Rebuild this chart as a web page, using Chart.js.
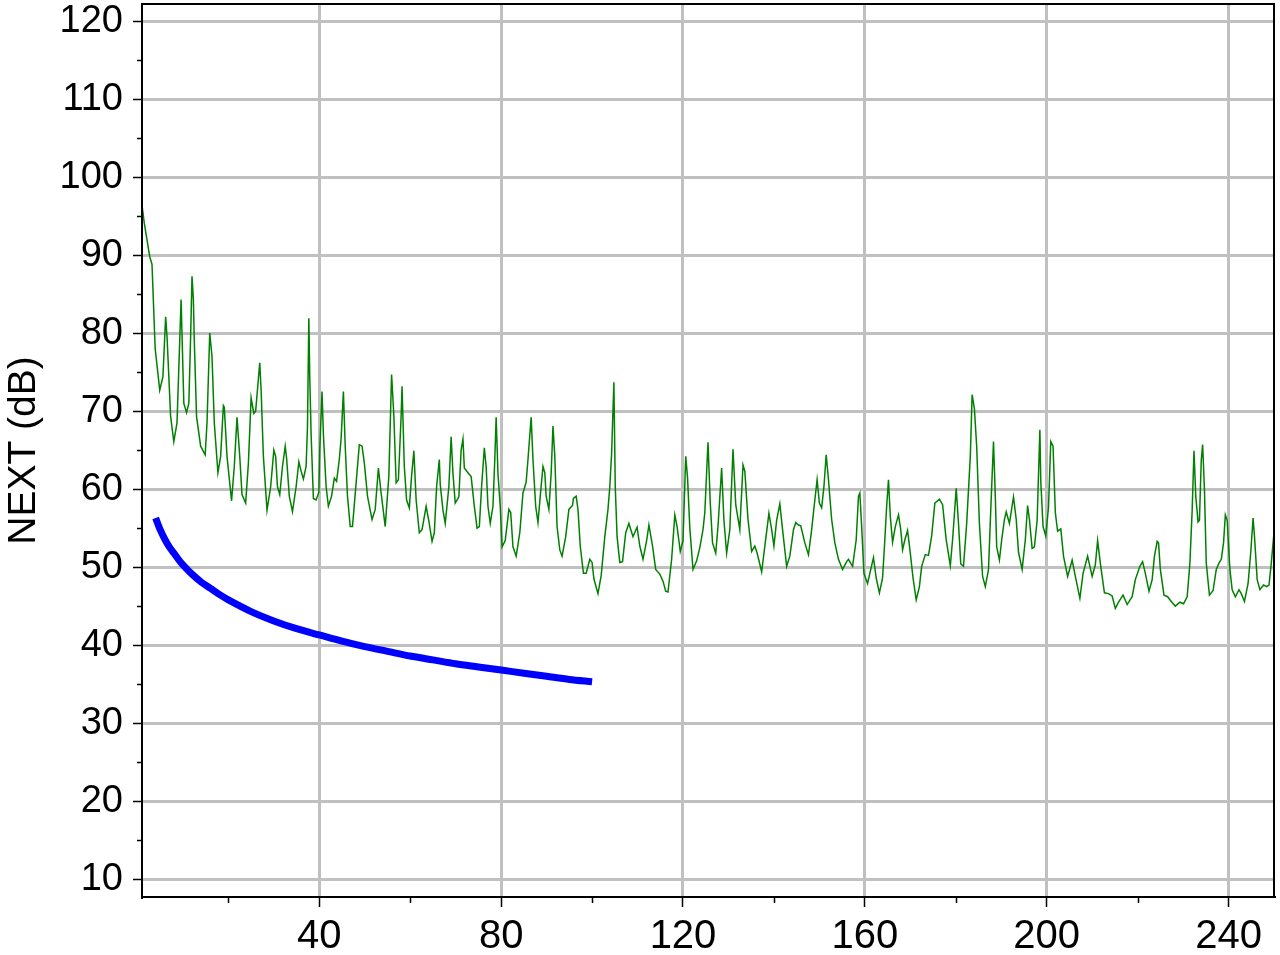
<!DOCTYPE html>
<html>
<head>
<meta charset="utf-8">
<script src="https://cdn.jsdelivr.net/npm/chart.js@4.4.1/dist/chart.umd.min.js"></script>
<style>
    html, body { margin: 0; padding: 0; background: #fff; }
    #wrap { width: 1280px; height: 955px; position: relative; }
</style>
</head>
<body>
<div id="wrap"><canvas id="nextChart"></canvas></div>
<script>
// measured NEXT (green trace), frequency in MHz
const measFreq = [
    1.0, 1.5, 2.7, 3.2, 3.9, 4.9, 5.6, 6.2, 6.5, 7.3, 8.0, 8.7, 9.6, 10.2, 10.8, 11.3, 11.7, 12.0, 12.3, 12.5,
    13.0, 13.9, 14.9, 15.3, 15.9, 16.4, 16.9, 17.7, 18.3, 18.9, 19.1, 19.7, 20.7, 21.3, 21.9, 22.5, 23.0, 23.8, 24.4, 25.0,
    25.6, 26.0, 26.9, 27.2, 27.7, 28.5, 29.3, 30.0, 30.4, 30.8, 31.3, 31.9, 32.5, 32.8, 33.4, 34.1, 34.9, 35.5, 36.0, 36.5,
    37.1, 37.4, 37.7, 37.9, 38.2, 38.7, 39.3, 39.9, 40.1, 40.6, 40.9, 41.5, 42.0, 42.7, 43.3, 43.8, 44.4, 44.8, 45.3, 45.7,
    46.2, 46.8, 47.3, 48.1, 48.8, 49.4, 49.9, 50.6, 51.6, 52.3, 53.0, 53.6, 54.5, 55.3, 55.9, 56.4, 56.9, 57.4, 58.0, 58.2,
    58.7, 59.2, 59.8, 60.3, 60.8, 61.3, 62.0, 62.6, 63.5, 64.1, 64.8, 65.3, 65.8, 66.4, 66.6, 67.2, 67.7, 68.5, 69.0, 69.4,
    69.9, 70.7, 71.2, 71.6, 71.9, 72.7, 73.4, 74.1, 74.7, 75.2, 75.7, 76.3, 76.7, 77.1, 77.6, 78.2, 78.6, 78.9, 79.3, 79.8,
    80.2, 80.9, 81.7, 82.1, 82.6, 83.3, 84.1, 84.8, 85.5, 85.9, 86.6, 87.0, 87.6, 88.1, 88.6, 89.2, 89.6, 89.9, 90.5, 91.0,
    91.4, 91.8, 92.3, 92.9, 93.4, 94.2, 94.9, 95.7, 95.9, 96.5, 96.9, 97.4, 98.1, 98.7, 99.5, 100.0, 100.4, 101.3, 102.0, 102.8,
    103.5, 103.9, 104.3, 104.8, 105.1, 105.5, 106.1, 106.7, 107.4, 108.1, 109.0, 109.9, 110.5, 111.2, 112.0, 112.5, 113.3, 114.0, 114.9, 115.6,
    116.2, 116.7, 117.5, 118.2, 118.7, 119.4, 120.0, 120.6, 121.0, 121.5, 122.2, 123.0, 123.7, 124.4, 124.8, 125.5, 126.0, 126.5, 127.2, 127.7,
    128.5, 129.0, 129.6, 130.3, 131.0, 131.6, 132.5, 133.2, 133.6, 134.3, 135.1, 135.8, 136.3, 137.3, 138.0, 138.9, 139.5, 140.0, 140.6, 141.3,
    141.9, 142.8, 143.5, 144.3, 144.8, 145.4, 145.9, 146.8, 147.6, 148.3, 149.0, 149.5, 150.0, 150.5, 151.0, 151.5, 152.0, 152.7, 153.4, 154.2,
    155.1, 156.0, 156.4, 157.3, 158.1, 158.6, 158.9, 159.3, 159.8, 160.6, 161.3, 161.9, 162.5, 163.2, 163.9, 164.4, 164.8, 165.2, 165.6, 166.1,
    166.7, 167.4, 167.9, 168.3, 168.8, 169.4, 170.0, 170.6, 171.3, 172.0, 172.5, 173.3, 174.0, 174.7, 175.4, 176.4, 177.1, 177.9, 178.8, 179.3,
    180.1, 180.6, 181.1, 181.7, 182.4, 183.2, 183.6, 184.1, 184.6, 185.2, 185.9, 186.5, 187.2, 187.7, 188.3, 188.7, 189.0, 189.6, 190.1, 190.7,
    191.1, 191.8, 192.7, 193.3, 193.8, 194.6, 195.3, 195.8, 196.2, 196.8, 197.3, 197.9, 198.5, 198.7, 199.2, 199.8, 200.4, 200.9, 201.4, 201.9,
    202.4, 203.1, 203.7, 204.6, 205.6, 206.3, 207.3, 208.0, 209.0, 210.0, 210.7, 211.2, 211.8, 212.7, 213.6, 214.4, 215.1, 215.8, 216.8, 217.7,
    218.8, 219.5, 220.5, 221.1, 221.7, 222.5, 223.2, 223.7, 224.3, 224.6, 225.0, 225.8, 226.6, 227.4, 228.3, 229.3, 230.1, 230.9, 231.5, 232.0,
    232.4, 232.8, 233.3, 233.6, 234.0, 234.3, 234.7, 235.1, 235.8, 236.6, 237.3, 237.9, 238.4, 238.9, 239.3, 239.7, 240.3, 240.8, 241.5, 242.3,
    242.8, 243.5, 244.3, 244.9, 245.4, 245.7, 246.3, 246.9, 247.7, 248.4, 248.9, 249.4, 250.0
];
const measNext = [
    96.4, 94.1, 89.8, 88.8, 78.0, 72.7, 74.4, 82.1, 79.6, 69.3, 66.1, 68.5, 84.3, 71.0, 69.8, 71.0, 79.6, 87.3, 84.3, 79.1,
    69.3, 65.5, 64.4, 68.5, 80.0, 77.0, 68.5, 62.1, 64.2, 70.7, 70.5, 64.2, 58.5, 62.9, 69.2, 64.2, 59.3, 58.2, 63.3, 71.7,
    69.7, 70.0, 76.2, 72.7, 64.2, 57.3, 60.3, 65.0, 64.2, 60.3, 59.3, 62.9, 65.5, 64.0, 59.1, 57.1, 60.3, 63.5, 62.3, 61.3,
    62.9, 68.0, 81.9, 74.4, 67.0, 58.8, 58.6, 59.6, 65.0, 72.5, 67.0, 60.3, 57.8, 59.1, 61.4, 61.0, 63.8, 66.5, 72.5, 65.5,
    59.1, 55.2, 55.2, 60.8, 65.7, 65.5, 63.4, 59.1, 56.1, 57.4, 62.7, 59.5, 55.2, 61.7, 74.7, 69.4, 60.8, 61.2, 69.4, 73.2,
    62.9, 58.6, 57.6, 61.7, 64.9, 58.6, 54.4, 54.8, 57.8, 55.9, 53.3, 54.4, 60.3, 63.8, 60.6, 57.3, 55.6, 60.3, 66.7, 62.0,
    58.2, 59.0, 65.0, 66.4, 62.7, 62.1, 61.6, 57.8, 55.0, 55.2, 60.3, 65.3, 62.9, 57.8, 55.6, 57.8, 63.8, 69.2, 62.0, 57.8,
    52.6, 53.4, 57.4, 57.0, 52.6, 51.4, 54.4, 59.5, 60.9, 63.8, 69.2, 63.8, 57.8, 55.7, 59.1, 62.9, 62.1, 59.1, 57.4, 62.0,
    68.1, 64.2, 55.2, 52.2, 51.4, 53.9, 57.4, 57.9, 58.8, 59.1, 57.4, 52.7, 49.2, 49.2, 51.0, 50.6, 48.5, 46.6, 48.9, 53.9,
    57.4, 60.3, 64.6, 73.7, 60.3, 53.9, 50.6, 50.7, 54.4, 55.6, 53.9, 55.1, 52.7, 51.0, 53.4, 55.4, 52.7, 49.7, 49.1, 48.2,
    46.9, 46.8, 51.0, 56.7, 55.2, 52.0, 53.4, 64.2, 61.5, 55.0, 49.7, 50.8, 52.5, 54.8, 57.0, 66.0, 58.2, 53.1, 51.8, 55.2,
    62.7, 56.0, 51.8, 54.8, 65.1, 58.0, 54.8, 63.1, 62.3, 56.1, 52.0, 52.7, 51.8, 49.4, 52.7, 56.9, 54.8, 52.7, 56.0, 58.1,
    54.8, 50.1, 51.4, 54.8, 55.7, 55.4, 55.3, 53.1, 51.6, 54.8, 58.6, 61.2, 58.2, 57.6, 60.3, 64.4, 61.2, 56.1, 53.1, 51.0,
    49.7, 50.7, 51.0, 50.1, 53.5, 59.1, 59.5, 55.2, 49.2, 47.9, 49.7, 51.2, 48.6, 46.7, 48.6, 53.5, 57.8, 61.2, 56.5, 53.2,
    55.2, 56.7, 54.8, 52.2, 53.5, 54.7, 51.8, 48.6, 45.8, 47.5, 50.1, 51.6, 51.5, 54.0, 58.2, 58.7, 58.0, 53.5, 50.2, 53.5,
    60.1, 55.6, 50.4, 50.1, 55.6, 64.2, 72.1, 70.3, 65.5, 55.6, 48.8, 47.5, 49.7, 57.4, 66.1, 59.0, 52.6, 50.9, 53.5, 56.1,
    57.1, 55.6, 59.0, 56.1, 51.9, 49.7, 53.5, 57.9, 56.1, 52.4, 52.6, 56.0, 67.6, 61.0, 55.2, 54.0, 57.7, 66.1, 65.5, 57.0,
    54.6, 54.9, 51.4, 48.8, 50.9, 48.8, 46.0, 49.2, 51.4, 48.8, 50.3, 53.4, 50.5, 46.7, 46.6, 46.3, 44.7, 45.5, 46.4, 45.2,
    46.2, 48.4, 50.1, 50.7, 49.2, 46.9, 48.4, 51.4, 53.3, 53.1, 49.7, 46.4, 46.2, 45.6, 45.0, 45.5, 45.3, 46.2, 50.5, 57.3,
    64.9, 59.0, 55.8, 56.0, 63.7, 65.7, 60.0, 50.5, 46.4, 47.0, 49.7, 50.5, 51.0, 53.1, 56.7, 56.0, 49.7, 47.1, 46.2, 47.1,
    46.6, 45.6, 47.9, 52.0, 56.3, 54.0, 48.4, 47.1, 47.7, 47.5, 47.7, 50.5, 54.4
];

// limit line (blue)
const limitFreq = [4, 5, 6, 7, 8, 9, 10, 12, 14, 16, 18, 20, 25, 30, 35, 40, 45, 50, 55, 60, 65, 70, 75, 80, 85, 90, 95, 100];
const limitNext = [56.3, 54.8, 53.6, 52.6, 51.8, 51.0, 50.3, 49.1, 48.1, 47.3, 46.5, 45.8, 44.3, 43.1, 42.1, 41.3, 40.5, 39.8, 39.2, 38.6, 38.1, 37.6, 37.2, 36.8, 36.4, 36.0, 35.6, 35.3];

// axis ticks
const xMajorTicks = [40, 80, 120, 160, 200, 240];
const xMinorTicks = [20, 60, 100, 140, 180, 220];
const yMajorTicks = [10, 20, 30, 40, 50, 60, 70, 80, 90, 100, 110, 120];
const yMinorTicks = [15, 25, 35, 45, 55, 65, 75, 85, 95, 105, 115];

const toPoints = (xs, ys) => xs.map((x, i) => ({ x: x, y: ys[i] }));

// no extra room for overhanging tick labels, the plot box is fixed
function noPadding(scale) {
    scale.paddingTop = 0;
    scale.paddingBottom = 0;
    scale.paddingLeft = 0;
    scale.paddingRight = 0;
}

// minor tick marks + frame around plot area
const framePlugin = {
    id: 'frame',
    afterDraw(chart) {
        const ctx = chart.ctx;
        const area = chart.chartArea;
        const xs = chart.scales.x;
        const ys = chart.scales.y;
        ctx.save();
        ctx.strokeStyle = '#000';
        ctx.lineWidth = 1.5;
        ctx.beginPath();
        yMinorTicks.forEach(v => {
            const py = Math.round(ys.getPixelForValue(v)) + 0.5;
            ctx.moveTo(area.left - 5, py);
            ctx.lineTo(area.left, py);
        });
        xMinorTicks.forEach(v => {
            const px = Math.round(xs.getPixelForValue(v)) + 0.5;
            ctx.moveTo(px, area.bottom);
            ctx.lineTo(px, area.bottom + 6);
        });
        ctx.stroke();
        ctx.lineWidth = 2;
        ctx.strokeRect(area.left, area.top, area.right - area.left, area.bottom - area.top);
        ctx.restore();
    }
};

const ctx = document.getElementById('nextChart');
new Chart(ctx, {
    type: 'line',
    data: {
        datasets: [
            {
                label: 'NEXT',
                data: toPoints(measFreq, measNext),
                borderColor: '#008000',
                borderWidth: 1.5,
                pointRadius: 0,
                tension: 0,
                fill: false
            },
            {
                label: 'Limit',
                data: toPoints(limitFreq, limitNext),
                borderColor: '#0000ff',
                borderWidth: 7,
                pointRadius: 0,
                tension: 0.3,
                fill: false
            }
        ]
    },
    options: {
        responsive: true,
        maintainAspectRatio: false,
        animation: false,
        devicePixelRatio: 1,
        layout: { padding: { top: 4, right: 6, left: 0, bottom: 0 } },
        plugins: {
            legend: { display: false },
            tooltip: { enabled: false }
        },
        scales: {
            x: {
                type: 'linear',
                min: 1,
                max: 250,
                afterFit(scale) { scale.height = 58; noPadding(scale); },
                afterBuildTicks(scale) { scale.ticks = xMajorTicks.map(v => ({ value: v })); },
                grid: {
                    color: '#c0c0c0',
                    lineWidth: 3,
                    tickColor: '#000',
                    tickWidth: 1.5,
                    tickLength: 10
                },
                border: { display: true, color: '#000', width: 2 },
                ticks: {
                    color: '#000',
                    padding: 6,
                    maxRotation: 0,
                    font: { family: '"Liberation Sans", Arial, sans-serif', size: 40 }
                }
            },
            y: {
                type: 'linear',
                min: 7.7,
                max: 122.2,
                afterFit(scale) { scale.width = 142; noPadding(scale); },
                afterBuildTicks(scale) { scale.ticks = yMajorTicks.map(v => ({ value: v })); },
                grid: {
                    color: '#c0c0c0',
                    lineWidth: 3,
                    tickColor: '#000',
                    tickWidth: 1.5,
                    tickLength: 9
                },
                border: { display: true, color: '#000', width: 2 },
                ticks: {
                    color: '#000',
                    padding: 10,
                    font: { family: '"Liberation Sans", Arial, sans-serif', size: 38 }
                },
                title: {
                    display: true,
                    text: 'NEXT (dB)',
                    color: '#000',
                    padding: { top: 1, bottom: 0 },
                    font: { family: '"Liberation Sans", Arial, sans-serif', size: 39 }
                }
            }
        }
    },
    plugins: [framePlugin]
});
</script>
</body>
</html>
